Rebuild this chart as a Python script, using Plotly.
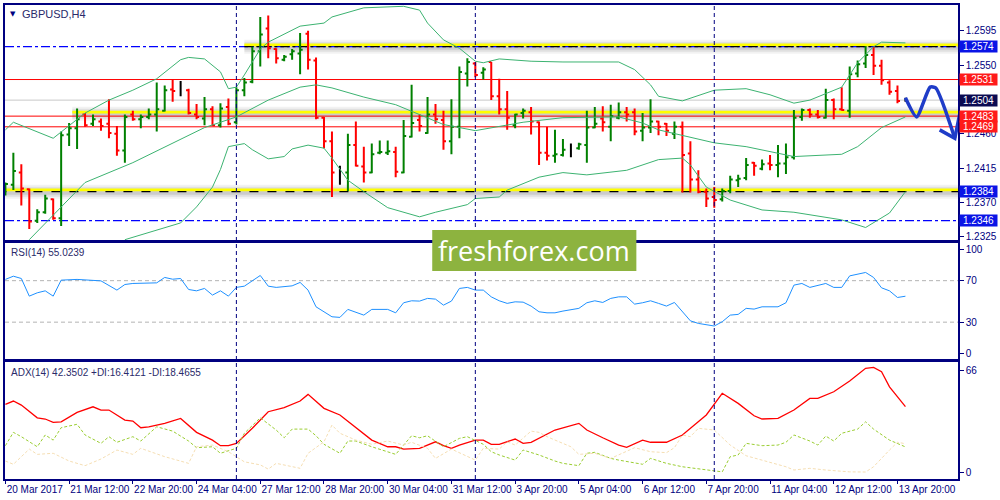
import plotly.graph_objects as go

# ---------------- data ----------------
tick_labels = ["20 Mar 2017", "21 Mar 12:00", "22 Mar 20:00", "24 Mar 04:00", "27 Mar 12:00",
               "28 Mar 20:00", "30 Mar 04:00", "31 Mar 12:00", "3 Apr 20:00", "5 Apr 04:00",
               "6 Apr 12:00", "7 Apr 20:00", "11 Apr 04:00", "12 Apr 12:00", "13 Apr 20:00"]
tick_bars = [0, 8, 16, 24, 32, 40, 48, 56, 64, 72, 80, 88, 96, 104, 112]
week_starts = [29, 59, 89]

opens = [1.2384, 1.2393, 1.2409, 1.2387, 1.2346, 1.2357, 1.2374, 1.2349, 1.2459, 1.2467,
         1.2485, 1.2473, 1.2476, 1.2473, 1.2460, 1.2438, 1.2485, 1.2479, 1.2482, 1.2485,
         1.2490, 1.2518, 1.2516, 1.2517, 1.2485, 1.2480, 1.2492, 1.2471, 1.2495, 1.2475,
         1.2517, 1.2528, 1.2568, 1.2598, 1.2571, 1.2557, 1.2564, 1.2565, 1.2591, 1.2556,
         1.2481, 1.2450, 1.2409, 1.2409, 1.2445, 1.2417, 1.2409, 1.2435, 1.2435, 1.2436,
         1.2409, 1.2456, 1.2478, 1.2461, 1.2485, 1.2478, 1.2450, 1.2469, 1.2539, 1.2552,
         1.2540, 1.2554, 1.2509, 1.2492, 1.2471, 1.2487, 1.2488, 1.2475, 1.2435, 1.2431,
         1.2432, 1.2443, 1.2441, 1.2445, 1.2468, 1.2480, 1.2469, 1.2481, 1.2488, 1.2488,
         1.2464, 1.2468, 1.2476, 1.2473, 1.2460, 1.2469, 1.2434, 1.2400, 1.2384, 1.2377,
         1.2374, 1.2385, 1.2399, 1.2402, 1.2422, 1.2414, 1.2421, 1.2419, 1.2421, 1.2429,
         1.2482, 1.2491, 1.2485, 1.2481, 1.2504, 1.2492, 1.2490, 1.2539, 1.2552, 1.2563,
         1.2549, 1.2527, 1.2516, 1.2504]
highs = [1.2396, 1.2435, 1.2420, 1.2388, 1.2361, 1.2380, 1.2375, 1.2463, 1.2474, 1.2493,
         1.2487, 1.2485, 1.2480, 1.2505, 1.2470, 1.2485, 1.2490, 1.2485, 1.2493, 1.2527,
         1.2523, 1.2531, 1.2529, 1.2519, 1.2499, 1.2508, 1.2496, 1.2500, 1.2506, 1.2521,
         1.2533, 1.2574, 1.2613, 1.2615, 1.2572, 1.2563, 1.2571, 1.2592, 1.2595, 1.2560,
         1.2482, 1.2463, 1.2418, 1.2460, 1.2476, 1.2443, 1.2447, 1.2451, 1.2451, 1.2443,
         1.2478, 1.2524, 1.2485, 1.2508, 1.2499, 1.2490, 1.2505, 1.2548, 1.2559, 1.2554,
         1.2547, 1.2554, 1.2532, 1.2516, 1.2486, 1.2493, 1.2495, 1.2476, 1.2469, 1.2465,
         1.2453, 1.2447, 1.2448, 1.2490, 1.2495, 1.2496, 1.2498, 1.2501, 1.2495, 1.2493,
         1.2487, 1.2505, 1.2477, 1.2474, 1.2476, 1.2476, 1.2450, 1.2412, 1.2388, 1.2390,
         1.2388, 1.2405, 1.2406, 1.2428, 1.2423, 1.2426, 1.2432, 1.2445, 1.2447, 1.2491,
         1.2493, 1.2493, 1.2491, 1.2519, 1.2506, 1.2521, 1.2548, 1.2556, 1.2575, 1.2574,
         1.2557, 1.2530, 1.2523, 1.2507]
lows = [1.2379, 1.2386, 1.2366, 1.2335, 1.2343, 1.2355, 1.2347, 1.2339, 1.2444, 1.2440,
        1.2469, 1.2470, 1.2464, 1.2454, 1.2431, 1.2422, 1.2477, 1.2467, 1.2479, 1.2463,
        1.2489, 1.2502, 1.2509, 1.2485, 1.2479, 1.2471, 1.2470, 1.2468, 1.2471, 1.2472,
        1.2509, 1.2526, 1.2548, 1.2559, 1.2552, 1.2555, 1.2557, 1.2538, 1.2544, 1.2479,
        1.2441, 1.2377, 1.2393, 1.2385, 1.2417, 1.2396, 1.2408, 1.2433, 1.2432, 1.2403,
        1.2408, 1.2455, 1.2463, 1.2460, 1.2473, 1.2439, 1.2433, 1.2454, 1.2522, 1.2534,
        1.2531, 1.2504, 1.2485, 1.2465, 1.2467, 1.2480, 1.2459, 1.2419, 1.2425, 1.2422,
        1.2430, 1.2429, 1.2439, 1.2422, 1.2467, 1.2463, 1.2450, 1.2479, 1.2476, 1.2458,
        1.2450, 1.2461, 1.2458, 1.2457, 1.2453, 1.2383, 1.2383, 1.2382, 1.2364, 1.2363,
        1.2371, 1.2382, 1.2390, 1.2399, 1.2405, 1.2412, 1.2412, 1.2403, 1.2407, 1.2426,
        1.2477, 1.2481, 1.2480, 1.2480, 1.2479, 1.2490, 1.2481, 1.2534, 1.2546, 1.2537,
        1.2524, 1.2511, 1.2500, 1.2502]
closes = [1.2394, 1.2411, 1.2388, 1.2345, 1.2357, 1.2375, 1.2349, 1.2458, 1.2467, 1.2479,
          1.2471, 1.2479, 1.2470, 1.2461, 1.2438, 1.2482, 1.2479, 1.2482, 1.2485, 1.2492,
          1.2517, 1.2516, 1.2516, 1.2487, 1.2482, 1.2492, 1.2471, 1.2493, 1.2473, 1.2517,
          1.2527, 1.2568, 1.2590, 1.2572, 1.2559, 1.2561, 1.2568, 1.2570, 1.2557, 1.2481,
          1.2450, 1.2409, 1.2409, 1.2445, 1.2418, 1.2409, 1.2433, 1.2436, 1.2437, 1.2410,
          1.2457, 1.2474, 1.2470, 1.2485, 1.2479, 1.2450, 1.2469, 1.2541, 1.2554, 1.2537,
          1.2544, 1.2509, 1.2492, 1.2481, 1.2485, 1.2490, 1.2476, 1.2435, 1.2431, 1.2433,
          1.2439, 1.2443, 1.2446, 1.2468, 1.2473, 1.2475, 1.2483, 1.2488, 1.2485, 1.2463,
          1.2468, 1.2476, 1.2469, 1.2464, 1.2469, 1.2432, 1.2400, 1.2384, 1.2375, 1.2373,
          1.2385, 1.2400, 1.2401, 1.2419, 1.2418, 1.2420, 1.2419, 1.2421, 1.2429, 1.2481,
          1.2491, 1.2485, 1.2482, 1.2504, 1.2492, 1.2491, 1.2538, 1.2551, 1.2563, 1.2549,
          1.2530, 1.2515, 1.2503, 1.2504]

bb_upper_x = [0, 1, 6, 10, 13, 16, 19, 22, 23, 25, 27, 28, 29, 30, 32, 33, 37, 40, 41, 45,
              50, 52, 53, 55, 57, 59, 60, 62, 66, 70, 77, 79, 81, 82, 85, 89, 93, 96, 99, 101,
              105, 107, 109, 110, 113]
bb_upper = [1.2465, 1.2475, 1.2454, 1.2487, 1.2504, 1.2517, 1.2532, 1.2557, 1.2560, 1.2558,
            1.2541, 1.2519, 1.2521, 1.2537, 1.2571, 1.2580, 1.2601, 1.2605, 1.2613, 1.2625,
            1.2627, 1.2622, 1.2605, 1.2583, 1.2572, 1.2555, 1.2553, 1.2558, 1.2555, 1.2554,
            1.2554, 1.2544, 1.2524, 1.2509, 1.2503, 1.2517, 1.2519, 1.2511, 1.2500, 1.2504,
            1.2521, 1.2553, 1.2574, 1.2580, 1.2579]
bb_mid_x = [3, 10, 16, 22, 25, 29, 33, 37, 39, 41, 45, 49, 52, 55, 59, 62, 65, 70, 77, 80,
            82, 89, 93, 99, 105, 107, 110, 113]
bb_mid = [1.2321, 1.2396, 1.2422, 1.2452, 1.2468, 1.2482, 1.2504, 1.2521, 1.2524, 1.2520,
          1.2508, 1.2498, 1.2485, 1.2472, 1.2464, 1.2469, 1.2475, 1.2481, 1.2482, 1.2474,
          1.2465, 1.2448, 1.2443, 1.2430, 1.2433, 1.2443, 1.2468, 1.2482]
bb_lower_x = [15, 19, 22, 24, 26, 27, 28, 30, 31, 33, 35, 36, 38, 40, 41, 43, 45, 48, 52, 54,
              58, 59, 62, 63, 67, 70, 73, 78, 82, 85, 86, 88, 91, 95, 99, 105, 108, 111, 113]
bb_lower = [1.2321, 1.2334, 1.2343, 1.2364, 1.2390, 1.2413, 1.2443, 1.2447, 1.2439, 1.2427,
            1.2430, 1.2440, 1.2445, 1.2441, 1.2428, 1.2399, 1.2384, 1.2363, 1.2351, 1.2357,
            1.2367, 1.2375, 1.2377, 1.2386, 1.2403, 1.2409, 1.2406, 1.2412, 1.2426, 1.2428,
            1.2419, 1.2390, 1.2373, 1.2360, 1.2357, 1.2347, 1.2337, 1.2356, 1.2384]

rsi_x = [0, 1, 2, 3, 4, 5, 6, 7, 9, 11, 12, 14, 15, 16, 19, 20, 21, 22, 23, 24, 25, 26, 27,
         28, 29, 30, 32, 33, 34, 36, 37, 38, 39, 41, 42, 43, 45, 46, 48, 49, 50, 51, 52, 53,
         54, 55, 56, 57, 58, 59, 60, 61, 62, 63, 64, 65, 66, 67, 68, 69, 70, 72, 73, 74, 75,
         76, 77, 78, 79, 80, 81, 82, 83, 84, 85, 86, 87, 88, 89, 90, 91, 92, 93, 94, 95, 97,
         98, 99, 100, 101, 103, 104, 105, 106, 107, 108, 109, 110, 111, 112, 113]
rsi = [71.2, 74.3, 72.1, 55.1, 58.3, 60.2, 55.1, 70.5, 71.2, 69.8, 69.8, 60.9, 66.3, 67.3,
       67.9, 73.1, 71.4, 72.1, 61.5, 60.2, 62.5, 56.1, 60.2, 55.1, 63.5, 64.7, 75.0, 64.7,
       63.5, 65.0, 68.3, 60.9, 44.8, 35.2, 34.6, 42.3, 36.8, 42.3, 42.3, 39.0, 48.7, 50.6,
       50.3, 52.9, 52.2, 46.4, 50.3, 62.5, 63.5, 60.9, 60.9, 54.4, 50.6, 48.1, 49.6, 49.3,
       45.5, 40.0, 39.0, 39.0, 40.7, 43.3, 48.7, 50.6, 49.0, 52.9, 54.4, 54.4, 47.4, 48.7,
       50.6, 48.1, 45.5, 49.0, 40.0, 31.3, 28.8, 27.9, 26.3, 30.4, 36.8, 37.5, 43.3, 42.6,
       44.8, 44.8, 48.7, 65.7, 67.3, 63.5, 67.3, 63.5, 63.5, 74.6, 76.0, 77.9, 73.1, 63.1,
       60.2, 53.8, 55.0]

adx_x = [0, 1, 2, 4, 5, 6, 7, 9, 11, 12, 13, 15, 16, 17, 18, 20, 22, 24, 26, 27, 28, 29, 31,
         33, 35, 37, 38, 40, 42, 44, 46, 48, 49, 50, 52, 54, 55, 56, 57, 59, 60, 61, 62, 64,
         65, 66, 69, 72, 73, 75, 77, 78, 80, 81, 83, 85, 88, 90, 92, 94, 95, 97, 99, 101, 102,
         104, 106, 108, 109, 110, 111, 113]
adx = [43.9, 46.0, 43.4, 35.2, 34.4, 32.3, 32.6, 38.7, 42.3, 40.2, 40.2, 33.7, 33.1, 28.8,
       29.4, 31.6, 34.8, 25.8, 20.8, 17.2, 17.2, 18.7, 28.4, 39.1, 41.7, 46.0, 50.3, 41.3,
       37.0, 28.8, 20.8, 16.5, 16.5, 15.0, 15.5, 19.7, 17.2, 15.5, 17.6, 20.8, 20.8, 18.1,
       18.1, 21.5, 18.7, 19.4, 27.3, 31.6, 27.3, 22.3, 17.6, 16.1, 20.8, 19.4, 19.4, 24.1,
       37.0, 51.0, 44.5, 36.5, 34.4, 34.8, 40.2, 47.7, 47.7, 52.0, 58.9, 67.1, 67.7, 64.9,
       55.2, 42.35]
pdi_x = [0, 1, 2, 4, 5, 6, 7, 9, 10, 12, 13, 14, 16, 17, 19, 21, 23, 24, 26, 27, 29, 30, 32,
         34, 35, 36, 38, 39, 40, 42, 43, 44, 46, 48, 49, 51, 52, 53, 55, 57, 58, 60, 61, 62,
         64, 65, 67, 69, 70, 72, 73, 74, 76, 77, 80, 81, 83, 85, 88, 90, 91, 92, 93, 95, 97,
         98, 99, 101, 102, 103, 104, 105, 107, 108, 109, 111, 113]
pdi = [17.2, 25.8, 23.0, 16.5, 24.1, 20.8, 28.8, 31.0, 24.1, 18.7, 23.0, 19.4, 23.0, 20.2,
       29.4, 26.6, 20.2, 15.9, 16.5, 12.3, 15.5, 25.2, 35.2, 27.3, 22.3, 27.9, 27.9, 23.6,
       18.1, 12.3, 20.2, 20.2, 16.5, 13.3, 11.6, 23.6, 22.3, 23.6, 16.5, 21.9, 23.0, 18.1,
       13.3, 11.2, 7.9, 14.4, 11.2, 7.3, 5.8, 4.3, 12.3, 12.9, 9.0, 7.9, 5.2, 9.0, 5.8, 3.6,
       1.5, 0.3, 10.1, 11.2, 18.7, 17.2, 17.6, 19.4, 24.1, 20.2, 17.6, 23.4, 20.2, 25.2, 27.9,
       32.6, 27.9, 20.8, 16.41]
mdi_x = [0, 1, 3, 4, 6, 8, 10, 12, 14, 16, 17, 20, 23, 24, 26, 28, 30, 32, 33, 34, 37, 38,
         40, 41, 42, 44, 46, 48, 50, 51, 53, 54, 56, 59, 60, 62, 63, 64, 66, 67, 68, 71, 72,
         74, 76, 77, 79, 81, 83, 84, 85, 86, 87, 89, 91, 93, 96, 98, 99, 101, 103, 106, 108,
         109, 111, 112, 113]
mdi = [7.3, 5.2, 15.0, 11.6, 12.3, 7.3, 4.3, 8.6, 14.4, 11.6, 15.5, 10.1, 5.8, 16.5, 17.6,
       13.3, 6.8, 4.8, 2.1, 5.8, 2.6, 12.3, 19.7, 30.5, 25.2, 20.8, 18.1, 20.2, 17.6, 19.4,
       15.5, 9.0, 15.0, 7.9, 15.5, 15.0, 19.7, 17.6, 26.6, 25.8, 23.0, 16.5, 11.6, 12.3, 9.0,
       11.2, 15.9, 13.3, 12.7, 15.9, 24.1, 23.0, 28.4, 27.3, 17.6, 10.7, 6.5, 3.6, 1.5, 2.6,
       1.5, 0.3, 0.2, 3.6, 14.4, 19.4, 18.47]

price_ticks = [1.2325, 1.2370, 1.2415, 1.2460, 1.2505, 1.2550, 1.2595]
rsi_ticks = [0, 30, 70, 100]
adx_ticks = [0, 66]
rsi_levels = [30, 70]

# analyst drawings on the price chart
zone_levels = [1.2574, 1.2486, 1.2384]
zone_start_bar = [30, 8.4, -1]
zone_line_dash = ["dashdot", None, "dash"]
red_levels = [1.2531, 1.2483, 1.2469]
blue_levels = [1.2574, 1.2346]
bid_level = 1.2504
label_levels = [1.2574, 1.2531, 1.2504, 1.2483, 1.2469, 1.2384, 1.2346]
label_colors = ["#0a14e6", "#ff1a1a", "#0b0b52", "#ff1a1a", "#ff1a1a", "#0a14e6", "#0a14e6"]
arrow_x = [113, 114.4, 116.1, 116.8, 119.2]
arrow_y = [1.2507, 1.2482, 1.2521, 1.2520, 1.2454]
arrow_head_x = [117.3, 119.2, 119.8]
arrow_head_y = [1.2465, 1.2454, 1.2485]

# ---------------- figure ----------------
NAVY = "#000080"
XR = [-0.05, 119.6]
FONT = "Liberation Sans"

fig = go.Figure()

n = len(opens)
groups = [
    ([i for i in range(n) if closes[i] > opens[i]], "#008000"),
    ([i for i in range(n) if closes[i] < opens[i]], "#ff0000"),
    ([i for i in range(n) if closes[i] == opens[i]], "#000000"),
]
for sel, col in groups:
    gaps = [b - a for a, b in zip(sel, sel[1:])]
    gap = min(gaps) if gaps else 1
    fig.add_trace(go.Ohlc(
        x=sel, open=[opens[i] for i in sel], high=[highs[i] for i in sel],
        low=[lows[i] for i in sel], close=[closes[i] for i in sel],
        increasing=dict(line=dict(color=col, width=2)),
        decreasing=dict(line=dict(color=col, width=2)),
        tickwidth=min(0.5, 0.32 / gap), hoverinfo="skip", showlegend=False,
        xaxis="x", yaxis="y"))

BB = "#3cb371"
for xs, ys in [(bb_upper_x, bb_upper), (bb_mid_x, bb_mid), (bb_lower_x, bb_lower)]:
    fig.add_trace(go.Scatter(x=xs, y=ys, mode="lines", line=dict(color=BB, width=1),
                             hoverinfo="skip", showlegend=False, xaxis="x", yaxis="y"))

fig.add_trace(go.Scatter(x=arrow_x, y=arrow_y, mode="lines",
                         line=dict(color="#1f3cc8", width=3.5, shape="spline", smoothing=0.6),
                         hoverinfo="skip", showlegend=False, xaxis="x", yaxis="y"))
fig.add_trace(go.Scatter(x=arrow_head_x, y=arrow_head_y, mode="lines",
                         line=dict(color="#1f3cc8", width=3.5),
                         hoverinfo="skip", showlegend=False, xaxis="x", yaxis="y"))

fig.add_trace(go.Scatter(x=rsi_x, y=rsi, mode="lines", line=dict(color="#1e90ff", width=1),
                         hoverinfo="skip", showlegend=False, xaxis="x2", yaxis="y2"))

fig.add_trace(go.Scatter(x=adx_x, y=adx, mode="lines", line=dict(color="#ff0000", width=1.3),
                         hoverinfo="skip", showlegend=False, xaxis="x3", yaxis="y3"))
fig.add_trace(go.Scatter(x=pdi_x, y=pdi, mode="lines",
                         line=dict(color="#9acd32", width=1, dash="3px,2px"),
                         hoverinfo="skip", showlegend=False, xaxis="x3", yaxis="y3"))
fig.add_trace(go.Scatter(x=mdi_x, y=mdi, mode="lines",
                         line=dict(color="#f5deb3", width=1, dash="3px,2px"),
                         hoverinfo="skip", showlegend=False, xaxis="x3", yaxis="y3"))

shapes = []
PX = 0.000131  # price per pixel on main panel
# zones (yellow highlighted levels with shadow)
for lvl, x0, dsh in zip(zone_levels, zone_start_bar, zone_line_dash):
    for half, alpha in [(7, 0.05), (5, 0.07), (3, 0.09)]:
        shapes.append(dict(type="rect", xref="x", yref="y", x0=x0, x1=XR[1],
                           y0=lvl - half * PX, y1=lvl + half * PX,
                           fillcolor=f"rgba(0,0,0,{alpha})", line=dict(width=0), layer="below"))
    shapes.append(dict(type="rect", xref="x", yref="y", x0=x0, x1=XR[1],
                       y0=lvl + 0.3 * PX, y1=lvl + 3.2 * PX,
                       fillcolor="#ffff00", line=dict(width=0), layer="below"))
for lvl in blue_levels:
    shapes.append(dict(type="line", xref="x", yref="y", x0=XR[0], x1=XR[1], y0=lvl, y1=lvl,
                       line=dict(color="#0000ff", width=1.2, dash="dashdot"), layer="below"))
for lvl, x0, dsh in zip(zone_levels, zone_start_bar, zone_line_dash):
    if dsh:
        shapes.append(dict(type="line", xref="x", yref="y", x0=x0, x1=XR[1], y0=lvl, y1=lvl,
                           line=dict(color="#000000", width=1.3, dash=dsh), layer="below"))
for lvl in red_levels:
    shapes.append(dict(type="line", xref="x", yref="y", x0=XR[0], x1=XR[1], y0=lvl, y1=lvl,
                       line=dict(color="#ff0000", width=1), layer="below"))
shapes.append(dict(type="line", xref="x", yref="y", x0=XR[0], x1=XR[1], y0=bid_level,
                   y1=bid_level, line=dict(color="#c8c8c8", width=1), layer="below"))
for lvl in rsi_levels:
    shapes.append(dict(type="line", xref="x2", yref="y2", x0=XR[0], x1=XR[1], y0=lvl, y1=lvl,
                       line=dict(color="#b4b4b4", width=1, dash="4px,3px"), layer="below"))
for wb in week_starts:
    shapes.append(dict(type="line", xref="x", yref="paper", x0=wb, x1=wb, y0=0, y1=1,
                       line=dict(color=NAVY, width=1, dash="4px,3px"), layer="above"))

# watermark box
shapes.append(dict(type="rect", xref="paper", yref="paper", x0=0.4483, x1=0.6625,
                   y0=0.4388, y1=0.5254, fillcolor="#8db33f", line=dict(width=0), layer="above"))

annotations = []
for lvl, col in zip(label_levels, label_colors):
    annotations.append(dict(xref="paper", yref="y", x=1, y=lvl, xanchor="left", yanchor="middle",
                            xshift=1, text=f"{lvl:.4f}", showarrow=False, bgcolor=col,
                            font=dict(family=FONT, size=10, color="white"), borderpad=0,
                            width=37, height=11, align="center"))
annotations.append(dict(xref="paper", yref="paper", x=0.5554, y=0.4815, text="freshforex.com",
                        showarrow=False, font=dict(family="Open Sans", size=27, color="white")))
annotations.append(dict(xref="paper", yref="paper", x=0.003, y=0.9935, xanchor="left",
                        yanchor="top", text="▼", showarrow=False,
                        font=dict(family="DejaVu Sans", size=7, color=NAVY)))
annotations.append(dict(xref="paper", yref="paper", x=0.016, y=0.998, xanchor="left",
                        yanchor="top", text="GBPUSD,H4", showarrow=False,
                        font=dict(family=FONT, size=11, color="#2a2a6a")))
annotations.append(dict(xref="paper", yref="paper", x=0.004, y=0.4935, xanchor="left",
                        yanchor="top", text="RSI(14) 55.0239", showarrow=False,
                        font=dict(family=FONT, size=10, color="#2a2a6a")))
annotations.append(dict(xref="paper", yref="paper", x=0.004, y=0.2415, xanchor="left",
                        yanchor="top", text="ADX(14) 42.3502 +DI:16.4121 -DI:18.4655",
                        showarrow=False, font=dict(family=FONT, size=10, color="#2a2a6a")))

axis_common = dict(showgrid=False, zeroline=False, showline=True, mirror=True,
                   linecolor=NAVY, linewidth=1.5)
yax_common = dict(axis_common, side="right", ticks="outside", ticklen=4, tickcolor=NAVY,
                  tickfont=dict(family=FONT, size=10, color=NAVY))

# the 1.2505 tick label sits under the bid-price box in the original
price_tick_text = ["" if abs(v - bid_level) < 0.0003 else f"{v:.4f}" for v in price_ticks]

fig.update_layout(
    width=1000, height=500,
    margin=dict(l=3, r=40, t=5, b=21),
    paper_bgcolor="white", plot_bgcolor="white",
    showlegend=False,
    xaxis=dict(axis_common, domain=[0, 1], range=XR, anchor="y", showticklabels=False,
               rangeslider=dict(visible=False)),
    xaxis2=dict(axis_common, domain=[0, 1], range=XR, anchor="y2", showticklabels=False,
                matches="x"),
    xaxis3=dict(axis_common, domain=[0, 1], range=XR, anchor="y3", matches="x",
                tickvals=tick_bars, ticktext=tick_labels, ticks="outside", ticklen=3,
                tickcolor=NAVY, ticklabelposition="outside right", tickangle=0,
                tickfont=dict(family=FONT, size=10, color=NAVY)),
    yaxis=dict(yax_common, domain=[0.5042, 1.0], range=[1.23206, 1.26287],
               tickvals=price_ticks, ticktext=price_tick_text),
    yaxis2=dict(yax_common, domain=[0.2525, 0.4979], range=[-5.8, 106.3], tickvals=rsi_ticks),
    yaxis3=dict(yax_common, domain=[0.0, 0.2462], range=[-4.3, 71.0], tickvals=adx_ticks),
    shapes=shapes, annotations=annotations,
)

fig.write_html("out.html", config={"displayModeBar": False},
               post_script="document.body.style.margin='0';document.body.style.overflow='hidden';")
